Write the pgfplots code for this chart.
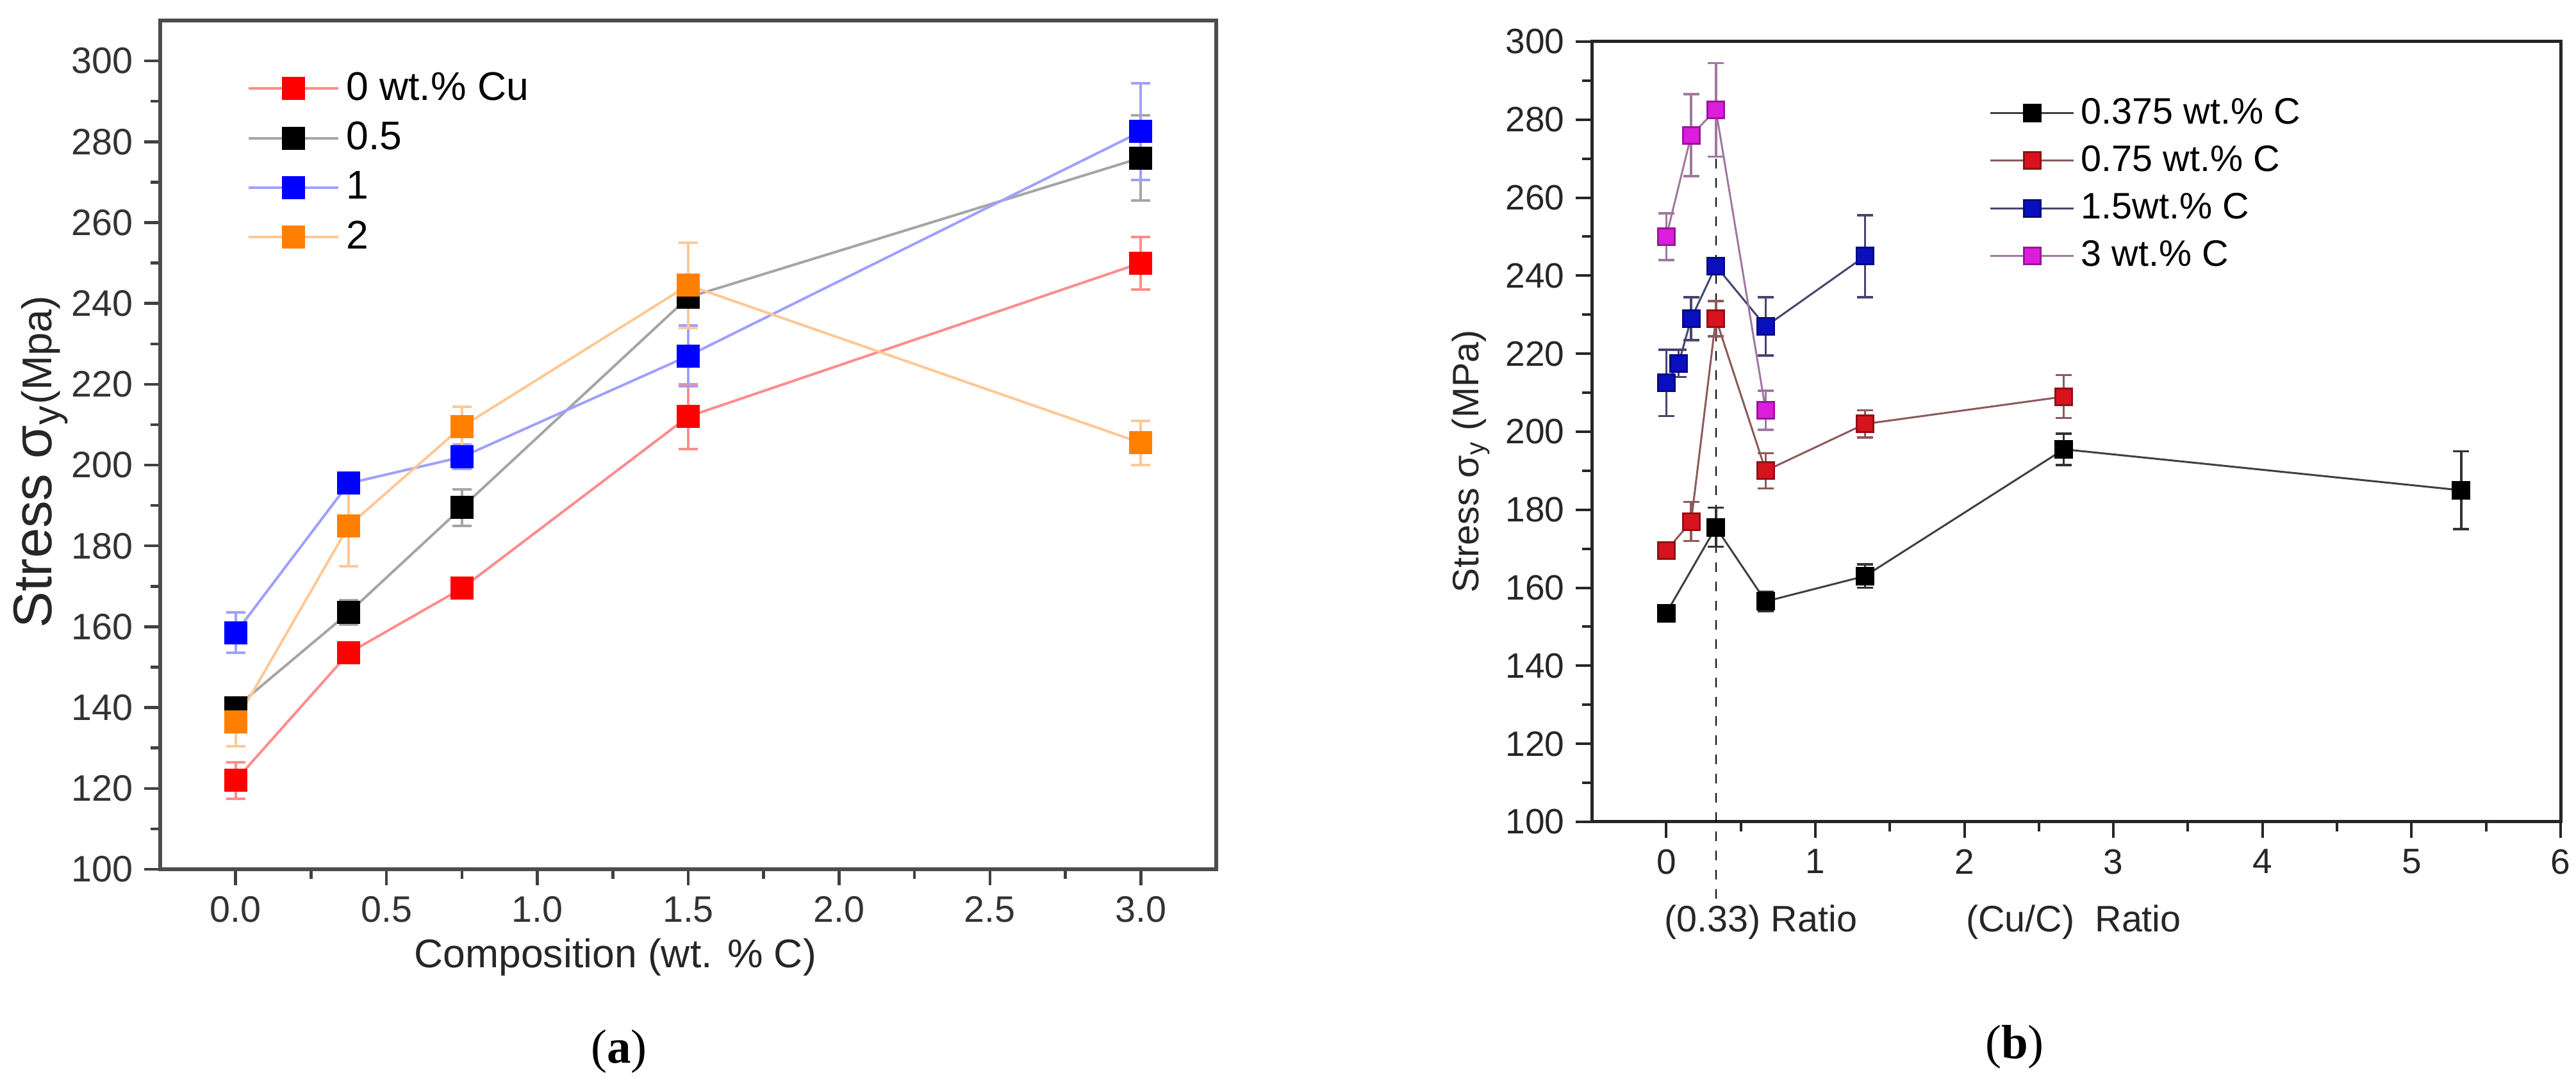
\documentclass[border=0pt]{standalone}
\usepackage{fontspec}
\setmainfont{Liberation Sans}
\newfontfamily\capfont{Liberation Serif}
\usepackage{pgfplots}
\pgfplotsset{compat=1.18}

% panel (a) colours: solid marks, light lines
\definecolor{cred}{RGB}{255,0,0}
\definecolor{credl}{RGB}{255,140,140}
\definecolor{cgrayl}{RGB}{165,165,165}
\definecolor{cblue}{RGB}{0,0,255}
\definecolor{cbluel}{RGB}{160,160,255}
\definecolor{corange}{RGB}{255,128,0}
\definecolor{corangel}{RGB}{255,200,150}
% panel (b) colours
\definecolor{bred}{RGB}{215,20,30}
\definecolor{bredl}{RGB}{140,90,90}
\definecolor{bblue}{RGB}{10,15,190}
\definecolor{bbluel}{RGB}{70,70,110}
\definecolor{bmag}{RGB}{220,30,220}
\definecolor{bmagl}{RGB}{160,120,160}

\begin{document}
\begin{tikzpicture}
\path[use as bounding box] (0,0) rectangle (804pt,337.2pt);

% ---------- (a) ----------
\begin{axis}[
  at={(50pt,65.8pt)}, anchor=south west,
  scale only axis, width=329.6pt, height=265pt,
  xmin=-0.25, xmax=3.25, ymin=100, ymax=310,
  xtick={0,0.5,...,3}, ytick={100,120,...,300},
  minor x tick num=1, minor y tick num=1,
  tick align=outside, tick pos=left,
  major tick length=5pt, minor tick length=3pt,
  axis line style={black!70, line width=1.2pt},
  every tick/.style={black!75, line width=0.9pt},
  x tick label style={/pgf/number format/fixed, /pgf/number format/fixed zerofill, /pgf/number format/precision=1},
  /pgf/number format/assume math mode=true,
  tick label style={font=\fontsize{11.5}{13}\selectfont, black!80},
  xlabel={Composition (wt. \% C)},
  xlabel style={font=\fontsize{12.5}{14}\selectfont, black!85, at={(axis description cs:0.431,-0.104)}, anchor=center},
  ylabel={\fontsize{17}{20}\selectfont Stress σ\textsubscript{y}\fontsize{13}{15}\selectfont(Mpa)},
  ylabel style={black!85, at={(axis description cs:-0.113,0.48)}, anchor=center},
  clip=false,
  legend image code/.code={\draw[mark repeat=2,mark phase=2,#1] plot coordinates {(0pt,0pt)(14pt,0pt)(28pt,0pt)};},
  legend style={draw=none, fill=none, at={(0.073,0.955)}, anchor=north west,
    font=\fontsize{12.5}{14}\selectfont, row sep=1.3pt},
  legend cell align=left,
]
\addplot[credl, line width=0.8pt, mark=square*, mark size=3.2pt, mark options={fill=cred, draw=cred, solid},
  error bars/.cd, y dir=both, y explicit, error bar style={credl, line width=0.8pt},
  error mark options={rotate=90, mark size=3pt, credl, line width=0.8pt}]
coordinates {(0,122)+-(0,4.5) (0.375,153.5)+-(0,1.5) (0.75,169.5)+-(0,1) (1.5,212)+-(0,8) (3,250)+-(0,6.5)};
\addlegendentry{0 wt.\% Cu}
\addplot[cgrayl, line width=0.8pt, mark=square*, mark size=3.2pt, mark options={fill=black, draw=black, solid},
  error bars/.cd, y dir=both, y explicit, error bar style={cgrayl, line width=0.8pt},
  error mark options={rotate=90, mark size=3pt, cgrayl, line width=0.8pt}]
coordinates {(0,140)+-(0,2) (0.375,163.5)+-(0,3) (0.75,189.5)+-(0,4.5) (1.5,241.5)+-(0,1.5) (3,276)+-(0,10.5)};
\addlegendentry{0.5}
\addplot[cbluel, line width=0.8pt, mark=square*, mark size=3.2pt, mark options={fill=cblue, draw=cblue, solid},
  error bars/.cd, y dir=both, y explicit, error bar style={cbluel, line width=0.8pt},
  error mark options={rotate=90, mark size=3pt, cbluel, line width=0.8pt}]
coordinates {(0,158.5)+-(0,5) (0.375,195.5)+-(0,2.5) (0.75,202)+-(0,3) (1.5,227)+-(0,7.5) (3,282.5)+-(0,12)};
\addlegendentry{1}
\addplot[corangel, line width=0.8pt, mark=square*, mark size=3.2pt, mark options={fill=corange, draw=corange, solid},
  error bars/.cd, y dir=both, y explicit, error bar style={corangel, line width=0.8pt},
  error mark options={rotate=90, mark size=3pt, corangel, line width=0.8pt}]
coordinates {(0,136.5)+-(0,6) (0.375,185)+-(0,10) (0.75,209.5)+-(0,5) (1.5,244.5)+-(0,10.5) (3,205.5)+-(0,5.5)};
\addlegendentry{2}
\end{axis}

% ---------- (b) ----------
\begin{axis}[
  at={(496.8pt,80.6pt)}, anchor=south west,
  scale only axis, width=302.4pt, height=243.6pt,
  xmin=-0.5, xmax=6, ymin=100, ymax=300,
  xtick={0,1,...,6}, ytick={100,120,...,300},
  minor x tick num=1, minor y tick num=1,
  tick align=outside, tick pos=left,
  major tick length=5pt, minor tick length=3pt,
  axis line style={black!85, line width=1pt},
  every tick/.style={black!85, line width=0.8pt},
  /pgf/number format/assume math mode=true,
  tick label style={font=\fontsize{11}{13}\selectfont, black!85},
  ylabel={Stress σ\textsubscript{y} (MPa)},
  ylabel style={font=\fontsize{11.5}{13}\selectfont, black!85, at={(axis description cs:-0.125,0.462)}, anchor=center},
  clip=false,
  legend image code/.code={\draw[mark repeat=2,mark phase=2,#1] plot coordinates {(0pt,0pt)(13pt,0pt)(26pt,0pt)};},
  legend style={draw=none, fill=none, at={(0.40,0.945)}, anchor=north west,
    font=\fontsize{11.5}{13}\selectfont, row sep=1.3pt},
  legend cell align=left,
]
\addplot[black, dashed, line width=0.5pt, forget plot] coordinates {(0.333,270) (0.333,80)};
\addplot[black!75, line width=0.6pt, mark=square*, mark size=2.6pt, mark options={fill=black, draw=black, solid},
  error bars/.cd, y dir=both, y explicit, error bar style={black!80, line width=0.7pt},
  error mark options={rotate=90, mark size=2.5pt, black!80, line width=0.7pt}]
coordinates {(0,153.5)+-(0,2) (0.333,175.5)+-(0,5) (0.667,156.5)+-(0,2.5) (1.333,163)+-(0,3) (2.667,195.5)+-(0,4) (5.333,185)+-(0,10)};
\addlegendentry{0.375 wt.\% C}
\addplot[bredl, line width=0.6pt, mark=square*, mark size=2.6pt, mark options={fill=bred, draw=bred!70!black, solid},
  error bars/.cd, y dir=both, y explicit, error bar style={bredl, line width=0.7pt},
  error mark options={rotate=90, mark size=2.5pt, bredl, line width=0.7pt}]
coordinates {(0,169.5)+-(0,2) (0.167,177)+-(0,5) (0.333,229)+-(0,4.5) (0.667,190)+-(0,4.5) (1.333,202)+-(0,3.5) (2.667,209)+-(0,5.5)};
\addlegendentry{0.75 wt.\% C}
\addplot[bbluel, line width=0.6pt, mark=square*, mark size=2.6pt, mark options={fill=bblue, draw=bblue!70!black, solid},
  error bars/.cd, y dir=both, y explicit, error bar style={bbluel, line width=0.7pt},
  error mark options={rotate=90, mark size=2.5pt, bbluel, line width=0.7pt}]
coordinates {(0,212.5)+-(0,8.5) (0.083,217.5)+-(0,3.5) (0.167,229)+-(0,5.5) (0.333,242.5)+-(0,1.5) (0.667,227)+-(0,7.5) (1.333,245)+-(0,10.5)};
\addlegendentry{1.5wt.\% C}
\addplot[bmagl, line width=0.6pt, mark=square*, mark size=2.6pt, mark options={fill=bmag, draw=bmag!70!black, solid},
  error bars/.cd, y dir=both, y explicit, error bar style={bmagl, line width=0.7pt},
  error mark options={rotate=90, mark size=2.5pt, bmagl, line width=0.7pt}]
coordinates {(0,250)+-(0,6) (0.167,276)+-(0,10.5) (0.333,282.5)+-(0,12) (0.667,205.5)+-(0,5)};
\addlegendentry{3 wt.\% C}
\node[font=\fontsize{11.5}{13}\selectfont, black!85] at (axis cs:0.635,100) [yshift=-31.4pt] {(0.33) Ratio};
\node[font=\fontsize{11.5}{13}\selectfont, black!85] at (axis cs:2.733,100) [yshift=-31.4pt] {(Cu/C)\ \ Ratio};
\end{axis}

\node[font=\capfont\fontsize{15}{18}\selectfont] at (193.2pt,9pt) {(\textbf{a})};
\node[font=\capfont\fontsize{15}{18}\selectfont] at (628.8pt,10.4pt) {(\textbf{b})};
\end{tikzpicture}
\end{document}
